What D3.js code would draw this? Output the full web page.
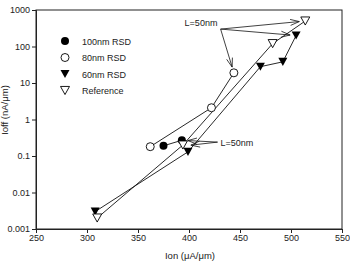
<!DOCTYPE html>
<html>
<head>
<meta charset="utf-8">
<script src="https://cdn.jsdelivr.net/npm/d3@7"></script>
<style>
  body { margin: 0; background: #fff; }
  svg { font-family: "Liberation Sans", Arial, sans-serif; }
</style>
</head>
<body>
<div id="chart"></div>
<script>
// Data
const rsd100 = [[375, 0.19], [393, 0.27]];
const rsd80 = [[362, 0.18], [422, 2.1], [444, 19]];
const rsd60 = [[308, 0.003], [399, 0.13], [470, 28], [492, 38], [505, 200]];
const reference = [[310, 0.002], [394, 0.2], [482, 120], [514, 500]];

const xTicks = [250, 300, 350, 400, 450, 500, 550];
const yTicks = [0.001, 0.01, 0.1, 1, 10, 100, 1000];
const yTickLabels = ["0.001", "0.01", "0.1", "1", "10", "100", "1000"];
const legendLabels = ["100nm RSD", "80nm RSD", "60nm RSD", "Reference"];

// annotation: label anchor and the points it refers to
const topNote = { text: "L=50nm", at: [431, 300], to: [[444, 19], [514, 500], [505, 200]] };
const lowNote = { text: "L=50nm", at: [428, 0.24], to: [[393, 0.27], [396, 0.19]] };

const width = 350, height = 262;
const svg = d3.select("#chart").append("svg")
    .attr("width", width)
    .attr("height", height);

const x = d3.scaleLinear().domain([250, 550]).range([36, 342]);
const y = d3.scaleLog().domain([0.001, 1000]).range([229, 10]);

// frame
svg.append("rect")
    .attr("x", x(250)).attr("y", y(1000))
    .attr("width", x(550) - x(250)).attr("height", y(0.001) - y(1000))
    .attr("fill", "none").attr("stroke", "#222").attr("stroke-width", 1);

// axes
const xAxis = svg.append("g")
    .attr("transform", `translate(0,${y(0.001)})`)
    .call(d3.axisBottom(x).tickValues(xTicks).tickSize(4).tickPadding(2).tickFormat(d3.format("d")));
const yAxis = svg.append("g")
    .attr("transform", `translate(${x(250)},0)`)
    .call(d3.axisLeft(y).tickValues(yTicks).tickSize(4).tickPadding(2)
        .tickFormat((d, i) => yTickLabels[i]));

[xAxis, yAxis].forEach(g => {
    g.select(".domain").attr("stroke", "#222");
    g.selectAll(".tick line").attr("stroke", "#222");
    g.selectAll(".tick text").attr("fill", "#222").style("font-size", "9px")
        .style("font-family", "'Liberation Sans', Arial, sans-serif");
});

// axis titles
svg.append("text")
    .attr("x", 190).attr("y", 259)
    .attr("text-anchor", "middle")
    .style("font-size", "9.5px").attr("fill", "#222")
    .text("Ion (μA/μm)");
svg.append("text")
    .attr("transform", "translate(8,110) rotate(-90)")
    .attr("text-anchor", "middle")
    .style("font-size", "9.5px").attr("fill", "#222")
    .text("Ioff (nA/μm)");

// series lines
const line = d3.line().x(d => x(d[0])).y(d => y(d[1]));
[rsd100, rsd80, rsd60, reference].forEach(s => {
    svg.append("path").datum(s)
        .attr("d", line)
        .attr("fill", "none")
        .attr("stroke", "#111")
        .attr("stroke-width", 0.9);
});

// markers
function tri(s) {
    // downward-pointing triangle centred at origin
    const h = s * 0.9;
    return `M${-s / 2},${-h / 2}L${s / 2},${-h / 2}L0,${h / 2}Z`;
}
function drawMarker(g, type) {
    if (type === 0) g.append("circle").attr("r", 4).attr("fill", "#000");
    if (type === 1) g.append("circle").attr("r", 4).attr("fill", "#fff").attr("stroke", "#000").attr("stroke-width", 0.9);
    if (type === 2) g.append("path").attr("d", tri(9)).attr("fill", "#000");
    if (type === 3) g.append("path").attr("d", tri(9)).attr("fill", "#fff").attr("stroke", "#000").attr("stroke-width", 0.9);
}

[rsd100, rsd80, rsd60, reference].forEach((s, k) => {
    svg.append("g").selectAll("g")
        .data(s).enter().append("g")
        .attr("transform", d => `translate(${x(d[0])},${y(d[1])})`)
        .each(function () { drawMarker(d3.select(this), k); });
});

// legend
const legend = svg.append("g");
legendLabels.forEach((lab, i) => {
    const g = legend.append("g").attr("transform", `translate(65,${41 + i * 16.5})`);
    drawMarker(g, i);
    g.append("text").attr("x", 17).attr("y", 3.5)
        .style("font-size", "9px").attr("fill", "#222")
        .text(lab);
});

// annotations with open arrowheads
function arrow(x1, y1, x2, y2, shorten) {
    const dx = x2 - x1, dy = y2 - y1, len = Math.hypot(dx, dy);
    const ux = dx / len, uy = dy / len;
    const tx = x2 - ux * shorten, ty = y2 - uy * shorten;
    const al = 9, aw = 3;
    const bx = tx - ux * al, by = ty - uy * al;
    svg.append("path")
        .attr("d", `M${x1},${y1}L${tx},${ty}M${bx - uy * aw},${by + ux * aw}L${tx},${ty}L${bx + uy * aw},${by - ux * aw}`)
        .attr("fill", "none").attr("stroke", "#111").attr("stroke-width", 0.8);
}

// top note
svg.append("text")
    .attr("x", x(topNote.at[0]) - 36).attr("y", y(topNote.at[1]) - 3)
    .style("font-size", "9px").attr("fill", "#222").text(topNote.text);
topNote.to.forEach(t => arrow(x(topNote.at[0]), y(topNote.at[1]), x(t[0]), y(t[1]), 6));

// lower note
svg.append("text")
    .attr("x", x(lowNote.at[0]) + 3).attr("y", y(lowNote.at[1]) + 4)
    .style("font-size", "9px").attr("fill", "#222").text(lowNote.text);
lowNote.to.forEach(t => arrow(x(lowNote.at[0]), y(lowNote.at[1]), x(t[0]), y(t[1]), 6));
</script>
</body>
</html>
